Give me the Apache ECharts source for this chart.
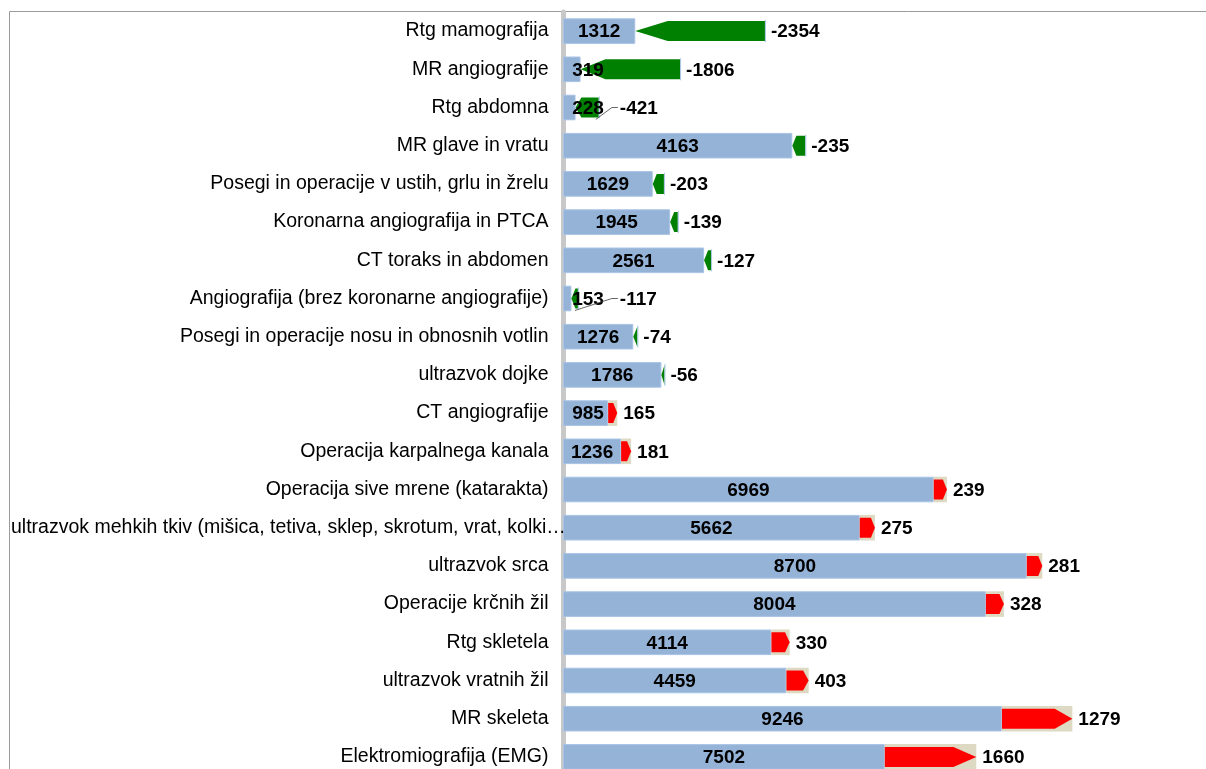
<!DOCTYPE html>
<html>
<head>
<meta charset="utf-8">
<script src="https://cdn.jsdelivr.net/npm/echarts@6/dist/echarts.min.js"></script>
<style>
html,body{margin:0;padding:0;background:#fff;overflow:hidden;}
#chart{width:1206px;height:800px;}
</style>
</head>
<body>
<div id="chart"></div>
<script>
var categories = [
    'Rtg mamografija',
    'MR angiografije',
    'Rtg abdomna',
    'MR glave in vratu',
    'Posegi in operacije v ustih, grlu in žrelu',
    'Koronarna angiografija in PTCA',
    'CT toraks in abdomen',
    'Angiografija (brez koronarne angiografije)',
    'Posegi in operacije nosu in obnosnih votlin',
    'ultrazvok dojke',
    'CT angiografije',
    'Operacija karpalnega kanala',
    'Operacija sive mrene (katarakta)',
    'ultrazvok mehkih tkiv (mišica, tetiva, sklep, skrotum, vrat, kolki…',
    'ultrazvok srca',
    'Operacije krčnih žil',
    'Rtg skletela',
    'ultrazvok vratnih žil',
    'MR skeleta',
    'Elektromiografija (EMG)'
];
// current value
var values = [1312, 319, 228, 4163, 1629, 1945, 2561, 153, 1276, 1786,
              985, 1236, 6969, 5662, 8700, 8004, 4114, 4459, 9246, 7502];
// change against previous value
var changes = [-2354, -1806, -421, -235, -203, -139, -127, -117, -74, -56,
               165, 181, 239, 275, 281, 328, 330, 403, 1279, 1660];

var FONT = '"Liberation Sans", Arial, sans-serif';

// blue part = current value for drops, previous value for rises
var baseValues = values.map(function (v, i) { return changes[i] > 0 ? v - changes[i] : v; });
var gainValues = changes.map(function (c) { return c > 0 ? c : '-'; });

var ctx = document.createElement('canvas').getContext('2d');
ctx.font = 'bold 19px ' + FONT;
function textW(t) { return ctx.measureText(t).width; }

function isCut(name) { return name.charAt(name.length - 1) === '…'; }

var chart = echarts.init(document.getElementById('chart'));

function renderArrow(params, api) {
    var i = api.value(1);
    var v = values[i], c = changes[i];
    var yc = api.coord([0, i])[1];
    var band = api.size([0, 1])[1];
    var h = band * 0.67 * 0.78;
    var x0 = api.coord([0, i])[0];
    var xTail = api.coord([v - c, i])[0];
    var xTip = api.coord([v, i])[0];
    var d = xTip > xTail ? 1 : -1;
    var L = Math.abs(xTip - xTail);
    var head = Math.max(L * 0.25, Math.min(L, 4));
    var pts = [
        [xTail, yc - h / 2], [xTip - d * head, yc - h / 2], [xTip, yc],
        [xTip - d * head, yc + h / 2], [xTail, yc + h / 2]
    ];
    var kids = [{
        type: 'polygon', shape: { points: pts },
        style: { fill: c > 0 ? '#ff0000' : '#008000' }
    }];
    if (c < 0) {
        kids.push({
            type: 'line',
            shape: { x1: xTail + 0.5, y1: yc - h / 2 - 1, x2: xTail + 0.5, y2: yc + h / 2 + 1 },
            style: { stroke: '#a9c4e6', lineWidth: 1 }
        });
    }
    // value label, centred in the blue bar
    var xBase = api.coord([baseValues[i], i])[0];
    var vt = String(v);
    var cx = Math.max((x0 + xBase) / 2, x0 + 25);
    kids.push({
        type: 'text',
        style: { text: vt, x: cx, y: yc + 1, align: 'center', verticalAlign: 'middle',
                 font: 'bold 19px ' + FONT, fill: '#000' }
    });
    // change label
    var rightEnd = Math.max(xTail, xTip);
    var lx = rightEnd + 6;
    var baseRight = cx + textW(vt) / 2;
    if (lx < baseRight + 8) {
        lx = baseRight + 16;
        kids.push({
            type: 'polyline',
            shape: { points: [[rightEnd - 3, yc + 12], [lx - 8, yc], [lx - 2, yc]] },
            style: { stroke: '#404040', lineWidth: 0.8, fill: null }
        });
    }
    kids.push({
        type: 'text',
        style: { text: String(c), x: lx, y: yc + 1, align: 'left', verticalAlign: 'middle',
                 font: 'bold 19px ' + FONT, fill: '#000' }
    });
    // truncated category name, starts at the chart's left edge
    if (isCut(categories[i])) {
        kids.push({
            type: 'text',
            style: { text: categories[i], x: 11, y: yc, align: 'left', verticalAlign: 'middle',
                     font: '19.5px ' + FONT, fill: '#000' }
        });
    }
    return { type: 'group', children: kids };
}

var option = {
    animation: false,
    graphic: [{
        type: 'rect', silent: true, z: -10,
        shape: { x: 9.5, y: 11.5, width: 1300, height: 900 },
        style: { fill: 'none', stroke: '#9a9a9a', lineWidth: 1 }
    }],
    grid: { left: 563, top: 12, width: 606, height: 764 },
    xAxis: { type: 'value', min: 0, max: 11000, show: false },
    yAxis: {
        type: 'category',
        data: categories,
        inverse: true,
        offset: 2.5,
        axisLine: { show: true, lineStyle: { color: '#c8c8c8', width: 5 } },
        axisTick: { show: false },
        splitLine: { show: false },
        axisLabel: {
            interval: 0,
            margin: 12,
            color: '#000',
            fontSize: 19.5,
            fontFamily: FONT,
            formatter: function (name) { return isCut(name) ? '' : name; }
        }
    },
    series: [
        {
            name: 'base', type: 'bar', stack: 'a', barWidth: '67%',
            data: baseValues,
            itemStyle: { color: '#95b3d7', borderColor: '#a9c4e6', borderWidth: 1 }
        },
        {
            name: 'gain', type: 'bar', stack: 'a', barWidth: '67%',
            data: gainValues,
            itemStyle: { color: '#ddd9c3' }
        },
        {
            name: 'arrows', type: 'custom',
            data: values.map(function (v, i) { return [v, i]; }),
            encode: { x: 0, y: 1 },
            renderItem: renderArrow,
            clip: false,
            z: 5
        }
    ]
};

chart.setOption(option);
</script>
</body>
</html>
